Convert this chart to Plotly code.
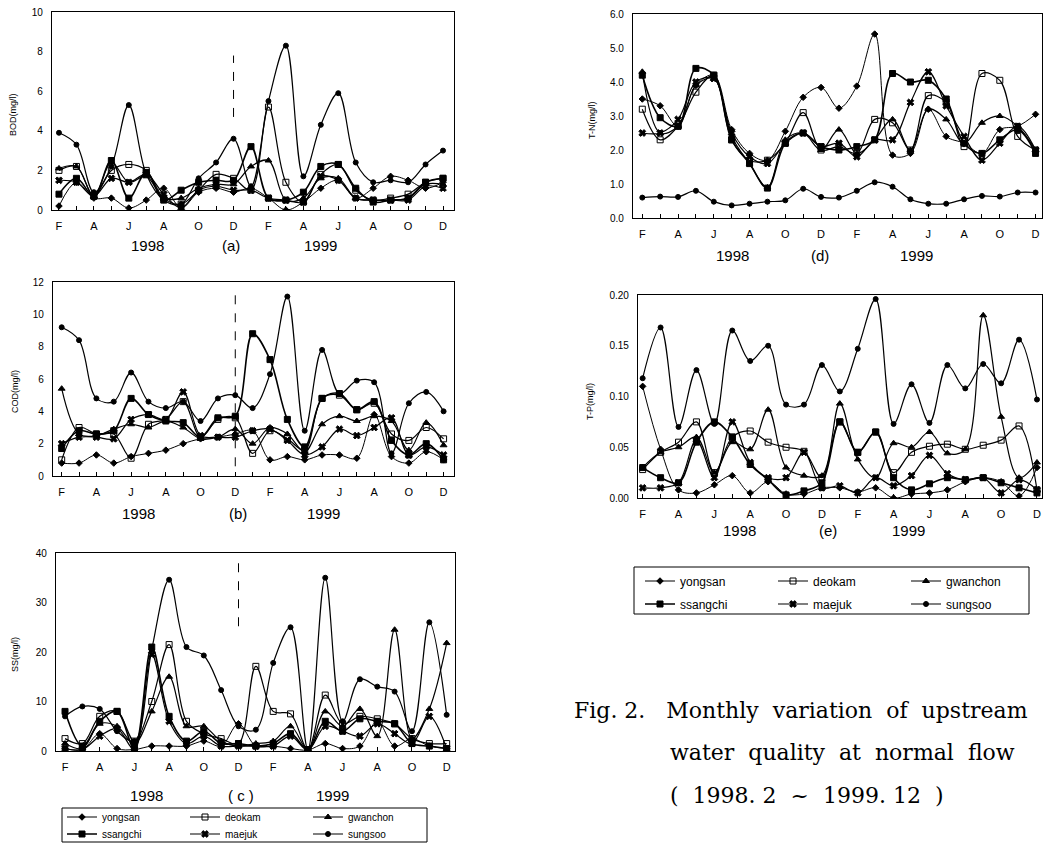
import plotly.graph_objects as go

W, H = 1043, 844

months = list(range(23))  # Feb 1998 .. Dec 1999
month_ticks = ["F", "A", "J", "A", "O", "D", "F", "A", "J", "A", "O", "D"]
stations = ["yongsan", "deokam", "gwanchon", "ssangchi", "maejuk", "sungsoo"]

# (a) BOD
bod_yongsan = [0.2,1.4,0.6,0.6,0.1,0.5,1.1,0.1,0.9,1.1,0.9,1.1,0.6,0.0,0.4,1.1,1.5,0.6,1.1,1.7,1.5,1.1,1.4]
bod_deokam = [2.0,2.2,0.7,2.0,2.3,2.0,0.6,0.3,1.0,1.8,1.6,1.0,5.2,1.4,0.4,1.8,2.3,1.0,0.5,0.6,0.8,1.4,1.6]
bod_gwanchon = [2.1,2.2,0.7,2.4,1.4,1.7,0.6,0.6,1.1,1.3,1.3,2.2,2.5,0.5,0.6,1.6,1.6,0.6,0.5,0.5,0.6,1.3,1.3]
bod_ssangchi = [0.8,1.6,0.7,2.5,0.6,1.9,0.5,1.0,1.4,1.5,1.5,3.2,0.6,0.5,0.9,2.2,2.3,1.1,0.4,0.5,0.6,1.4,1.6]
bod_maejuk = [1.5,1.4,0.7,1.6,1.4,1.8,0.8,0.1,1.0,1.2,1.0,1.0,0.6,0.5,0.4,1.7,1.5,0.6,0.5,0.5,0.5,1.2,1.1]
bod_sungsoo = [3.9,3.3,0.9,2.2,5.3,1.8,0.5,0.3,1.6,2.4,3.6,1.2,5.5,8.3,1.7,4.3,5.9,2.4,1.4,1.5,1.4,2.3,3.0]

# (b) COD
cod_yongsan = [0.8,0.8,1.3,0.8,1.2,1.4,1.6,2.0,2.3,2.4,2.6,2.8,1.0,1.2,1.0,1.3,1.3,1.1,3.8,1.2,0.8,1.5,1.0]
cod_deokam = [1.0,3.0,2.6,2.6,1.1,3.2,3.5,4.6,2.4,3.5,3.6,1.4,2.8,2.3,1.6,4.8,5.0,4.1,4.5,2.6,2.2,3.0,2.3]
cod_gwanchon = [5.4,2.6,2.5,2.9,3.2,3.0,3.4,3.0,2.3,2.4,2.9,2.0,3.0,2.6,1.5,3.2,3.7,3.4,3.7,3.4,1.6,3.3,1.9]
cod_ssangchi = [1.7,2.8,2.6,2.8,4.8,3.8,3.4,3.3,2.4,3.6,3.7,8.8,7.2,3.5,1.8,4.8,5.1,4.1,4.6,2.2,1.3,2.0,1.0]
cod_maejuk = [2.0,2.4,2.4,2.3,3.5,3.8,3.5,5.2,2.5,2.4,2.4,2.8,2.9,2.2,1.3,1.8,2.9,2.5,3.0,3.6,1.3,1.8,1.3]
cod_sungsoo = [9.2,8.4,4.8,4.6,6.4,4.6,4.2,4.6,3.4,4.8,5.0,4.2,6.3,11.1,2.8,7.8,5.1,5.9,5.8,1.4,4.5,5.2,4.0]

# (c) SS
ss_yongsan = [0.5,0.3,3.5,0.5,0.3,1.0,1.0,1.0,2.0,1.0,5.5,1.0,1.0,0.5,0.2,1.5,0.5,1.0,6.0,1.0,2.5,1.0,0.5]
ss_deokam = [2.5,1.5,7.0,8.0,2.0,10.0,21.5,6.0,3.5,2.5,1.5,17.1,8.0,7.5,0.3,11.3,5.5,7.0,6.5,5.5,2.5,1.5,1.5]
ss_gwanchon = [1.5,0.5,5.5,5.0,1.5,8.0,15.0,5.0,5.0,2.0,1.0,1.5,2.0,5.0,0.3,8.0,5.0,8.5,3.0,24.5,2.5,8.5,21.8]
ss_ssangchi = [8.0,1.0,6.0,8.0,0.5,21.0,7.0,2.0,4.0,1.5,1.5,1.0,1.5,3.5,0.3,6.0,4.0,6.5,6.0,5.5,1.5,1.0,0.5]
ss_maejuk = [0.5,0.3,3.0,4.5,0.3,19.5,6.0,1.5,3.0,1.0,1.0,1.0,1.0,3.0,0.2,5.0,4.0,3.0,5.5,3.5,1.5,7.0,0.5]
ss_sungsoo = [7.0,9.0,8.5,4.0,2.0,20.5,34.6,21.0,19.3,12.3,5.0,4.3,17.8,25.0,0.3,35.0,6.0,14.5,13.0,12.0,4.0,26.0,7.3]

# (d) T-N
tn_yongsan = [3.5,3.3,2.7,3.9,4.2,2.6,1.9,1.7,2.55,3.55,3.84,3.23,3.88,5.41,1.85,1.9,3.2,2.4,2.2,1.9,2.6,2.7,3.05]
tn_deokam = [3.2,2.3,2.7,3.7,4.2,2.3,1.7,1.7,2.2,3.1,2.0,2.1,1.9,2.9,2.8,2.0,3.6,3.4,2.1,4.25,4.05,2.4,2.0]
tn_gwanchon = [4.3,2.5,2.7,3.9,4.1,2.4,1.6,0.9,2.3,2.5,2.0,2.6,1.9,2.3,2.9,2.0,3.2,2.9,2.2,2.8,3.0,2.7,2.0]
tn_ssangchi = [4.2,2.95,2.7,4.4,4.2,2.3,1.6,0.88,2.2,2.5,2.1,2.0,2.1,2.3,4.25,4.0,4.05,3.5,2.2,1.9,2.3,2.6,1.9]
tn_maejuk = [2.5,2.5,2.9,4.0,4.1,2.5,1.8,1.6,2.2,2.5,2.1,2.2,1.8,2.3,2.3,3.4,4.3,3.3,2.4,1.7,2.2,2.7,2.0]
tn_sungsoo = [0.6,0.63,0.62,0.8,0.48,0.37,0.42,0.48,0.52,0.86,0.62,0.6,0.8,1.05,0.92,0.55,0.42,0.42,0.55,0.65,0.63,0.75,0.75]

# (e) T-P
tp_yongsan = [0.110,0.048,0.008,0.005,0.013,0.022,0.005,0.016,0.004,0.004,0.010,0.010,0.006,0.010,0.000,0.004,0.005,0.008,0.016,0.020,0.016,0.002,0.030]
tp_deokam = [0.028,0.045,0.055,0.075,0.025,0.060,0.066,0.055,0.050,0.046,0.020,0.075,0.045,0.065,0.025,0.045,0.051,0.053,0.048,0.052,0.057,0.071,0.008]
tp_gwanchon = [0.030,0.045,0.050,0.060,0.025,0.055,0.048,0.087,0.030,0.022,0.022,0.093,0.038,0.020,0.054,0.050,0.065,0.044,0.048,0.180,0.080,0.020,0.035]
tp_ssangchi = [0.030,0.020,0.015,0.055,0.075,0.060,0.033,0.018,0.003,0.007,0.015,0.075,0.045,0.065,0.020,0.008,0.014,0.020,0.018,0.020,0.015,0.010,0.005]
tp_maejuk = [0.010,0.010,0.015,0.057,0.020,0.075,0.035,0.020,0.020,0.045,0.010,0.012,0.005,0.020,0.012,0.022,0.042,0.024,0.018,0.020,0.005,0.018,0.008]
tp_sungsoo = [0.118,0.168,0.070,0.126,0.073,0.165,0.135,0.150,0.092,0.092,0.131,0.105,0.147,0.196,0.073,0.112,0.074,0.131,0.108,0.132,0.113,0.156,0.097]

panels = [
    dict(name="a", ylabel="BOD(mg/l)", data=[bod_yongsan, bod_deokam, bod_gwanchon, bod_ssangchi, bod_maejuk, bod_sungsoo],
         px=(52, 454), py=(12, 210), xr=(-0.4, 22.63), yr=(0, 10), dtick=2, fmt="d",
         years=((147, "1998"), (231, "(a)"), (320, "1999")), yy=245, yl=(13, 115), dash=(4.7, 7.8)),
    dict(name="b", ylabel="COD(mg/l)", data=[cod_yongsan, cod_deokam, cod_gwanchon, cod_ssangchi, cod_maejuk, cod_sungsoo],
         px=(53, 454), py=(282, 476), xr=(-0.5, 22.6), yr=(0, 12), dtick=2, fmt="d",
         years=((138, "1998"), (238, "(b)"), (323, "1999")), yy=513, yl=(15, 392), dash=(0.6, 11.7)),
    dict(name="c", ylabel="SS(mg/l)", data=[ss_yongsan, ss_deokam, ss_gwanchon, ss_ssangchi, ss_maejuk, ss_sungsoo],
         px=(56, 455), py=(553, 751), xr=(-0.52, 22.48), yr=(0, 40), dtick=10, fmt="d",
         years=((146, "1998"), (241, "( c )"), (332, "1999")), yy=795, yl=(15, 655), dash=(25.2, 39.7)),
    dict(name="d", ylabel="T-N(mg/l)", data=[tn_yongsan, tn_deokam, tn_gwanchon, tn_ssangchi, tn_maejuk, tn_sungsoo],
         px=(633, 1042), py=(14, 218), xr=(-0.52, 22.36), yr=(0, 6), dtick=1, fmt=".1f",
         years=((732, "1998"), (820, "(d)"), (916, "1999")), yy=255, yl=(592, 120), dash=None),
    dict(name="e", ylabel="T-P(mg/l)", data=[tp_yongsan, tp_deokam, tp_gwanchon, tp_ssangchi, tp_maejuk, tp_sungsoo],
         px=(638, 1042), py=(295, 498), xr=(-0.26, 22.28), yr=(0, 0.2), dtick=0.05, fmt=".2f",
         years=((739, "1998"), (828, "(e)"), (908, "1999")), yy=530, yl=(590, 402), dash=None),
]

styles = {
    "yongsan": dict(symbol="diamond", size=5, width=1.0),
    "deokam": dict(symbol="square-open", size=6, width=1.2),
    "gwanchon": dict(symbol="triangle-up", size=6, width=1.2),
    "ssangchi": dict(symbol="square", size=6, width=1.6),
    "maejuk": dict(symbol="x", size=6, width=1.2),
    "sungsoo": dict(symbol="circle", size=5, width=1.2),
}


def fx(p):
    return p / W


def fy(p):
    return 1 - p / H


fig = go.Figure()
layout = dict(
    width=W, height=H, margin=dict(l=0, r=0, t=0, b=0, autoexpand=False),
    paper_bgcolor="white", plot_bgcolor="white",
    font=dict(family="Liberation Sans, Arial, sans-serif", color="black"),
    annotations=[], shapes=[],
)

tickvals = list(range(23))
ticktext = [month_ticks[i // 2] if i % 2 == 0 else "" for i in range(23)]

for k, p in enumerate(panels):
    ax = "" if k == 0 else str(k + 1)
    xa, ya = "x" + ax, "y" + ax
    layout["xaxis" + ax] = dict(
        domain=[fx(p["px"][0]), fx(p["px"][1])], anchor=ya, range=list(p["xr"]),
        tickvals=tickvals, ticktext=ticktext, ticks="inside", ticklen=4, tickcolor="black",
        showline=True, mirror=True, linecolor="black", linewidth=1.2, showgrid=False, zeroline=False,
        tickfont=dict(size=11), ticklabelstandoff=6, automargin=False,
    )
    layout["yaxis" + ax] = dict(
        domain=[fy(p["py"][1]), fy(p["py"][0])], anchor=xa, range=list(p["yr"]),
        dtick=p["dtick"], tick0=0, tickformat=p["fmt"], ticks="",
        showline=True, mirror=True, linecolor="black", linewidth=1.2, showgrid=False, zeroline=False,
        tickfont=dict(size=10), ticklabelstandoff=6, automargin=False,
    )
    for j, (st, vals) in enumerate(zip(stations, p["data"])):
        s = styles[st]
        if p["name"] == "c":
            lg, show = ("legend" if j < 3 else "legend2"), True
        elif p["name"] == "e":
            lg, show = ("legend3" if j < 3 else "legend4"), True
        else:
            lg, show = "legend", False
        fig.add_trace(go.Scatter(
            x=months, y=vals, xaxis=xa, yaxis=ya, name=st, mode="lines+markers",
            line=dict(color="black", width=s["width"], shape="spline", smoothing=1.0),
            marker=dict(symbol=s["symbol"], size=s["size"], color="black",
                        line=dict(color="black", width=1)),
            showlegend=show, legend=lg, cliponaxis=True,
        ))
    for xc, txt in p["years"]:
        layout["annotations"].append(dict(
            x=fx(xc), y=fy(p["yy"]), xref="paper", yref="paper", text=txt, showarrow=False,
            xanchor="center", yanchor="middle", font=dict(size=15)))
    layout["annotations"].append(dict(
        x=fx(p["yl"][0]), y=fy(p["yl"][1]), xref="paper", yref="paper", text=p["ylabel"],
        showarrow=False, textangle=-90, xanchor="center", yanchor="middle", font=dict(size=9)))
    if p["dash"]:
        layout["shapes"].append(dict(
            type="line", xref=xa, yref=ya, x0=10, x1=10, y0=p["dash"][0], y1=p["dash"][1],
            line=dict(color="black", width=1, dash="dash")))

# legend boxes
layout["shapes"].append(dict(type="rect", xref="paper", yref="paper",
                             x0=fx(62), x1=fx(427), y0=fy(842), y1=fy(808),
                             line=dict(color="black", width=1)))
layout["shapes"].append(dict(type="rect", xref="paper", yref="paper",
                             x0=fx(634), x1=fx(1029), y0=fy(614), y1=fy(567),
                             line=dict(color="black", width=1)))

leg_common = dict(orientation="h", xanchor="left", yanchor="middle", bgcolor="rgba(0,0,0,0)",
                  borderwidth=0, entrywidthmode="pixels", itemwidth=30, tracegroupgap=0,
                  xref="container", yref="container")
layout["legend"] = dict(leg_common, x=fx(62), y=fy(817), entrywidth=78, font=dict(size=10))
layout["legend2"] = dict(leg_common, x=fx(62), y=fy(834), entrywidth=78, font=dict(size=10))
layout["legend3"] = dict(leg_common, x=fx(640), y=fy(581), entrywidth=88, font=dict(size=12))
layout["legend4"] = dict(leg_common, x=fx(640), y=fy(604), entrywidth=88, font=dict(size=12))

# caption
cap_font = dict(family="DejaVu Serif, Liberation Serif, serif", size=22)
sp = "&nbsp;"
for xx, yy, txt in [(572, 710, "Fig." + sp + "2." + sp * 3 + "Monthly" + sp * 2 + "variation" + sp * 2 + "of" + sp * 2 + "upstream"),
                    (668, 752, "water" + sp * 2 + "quality" + sp * 2 + "at" + sp * 2 + "normal" + sp * 2 + "flow"),
                    (668, 795, "(" + sp * 2 + "1998." + sp + "2" + sp * 2 + "~" + sp * 2 + "1999." + sp + "12" + sp * 2 + ")")]:
    layout["annotations"].append(dict(x=fx(xx), y=fy(yy), xref="paper", yref="paper", text=txt,
                                      showarrow=False, xanchor="left", yanchor="middle", font=cap_font))

fig.update_layout(**layout)
fig.write_html("out.html", config={"displayModeBar": False},
               post_script="document.body.style.margin='0px';document.body.style.overflow='hidden';")
